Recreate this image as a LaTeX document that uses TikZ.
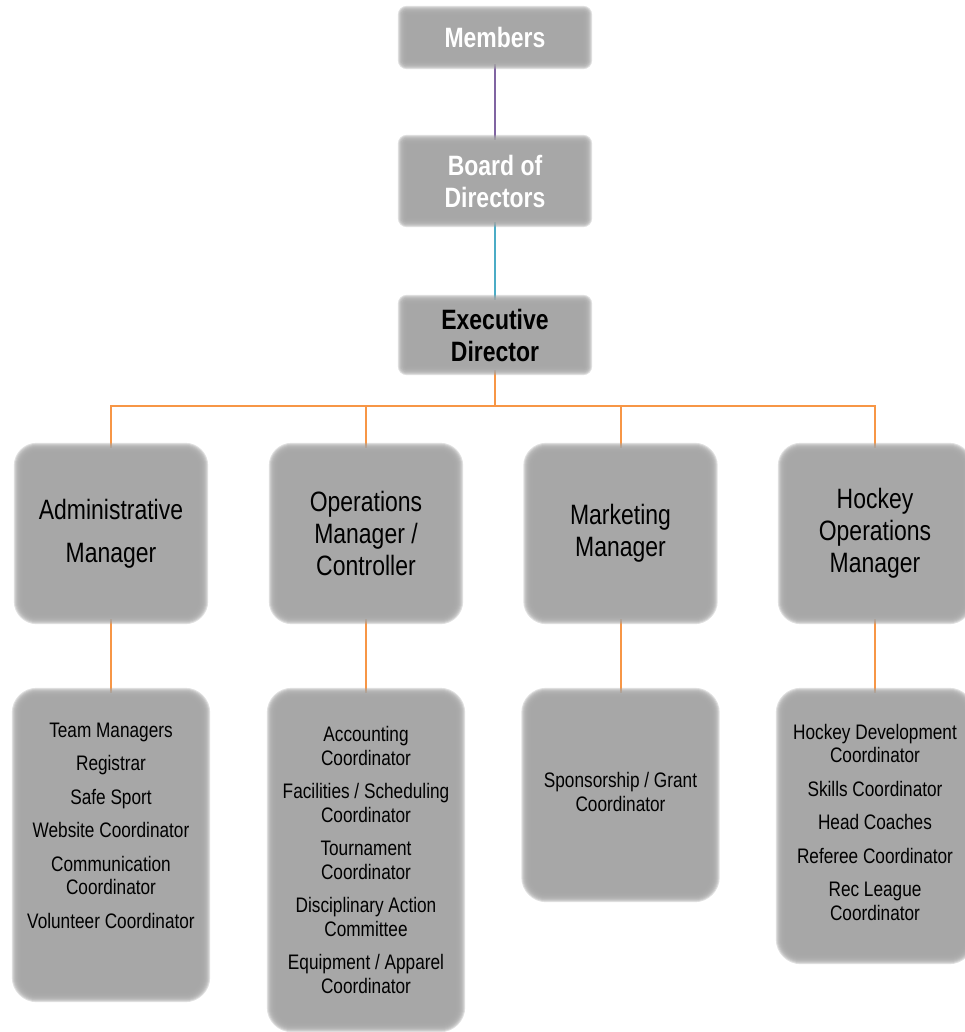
\documentclass[tikz,border=0pt]{standalone}
\usepackage{fontspec}
\newfontfamily\narrow{Liberation Sans}[FakeStretch=0.82]
\definecolor{boxgray}{HTML}{A6A6A6}
\definecolor{lnpurple}{HTML}{8064A2}
\definecolor{lncyan}{HTML}{4BACC6}
\definecolor{lnorange}{HTML}{F79646}
\pgfdeclarelayer{edgelayer}
\pgfdeclarelayer{halolayer}
\pgfsetlayers{edgelayer,halolayer,main}
% soft-edged grey fill of a node, built from stacked translucent layers
\newcommand\halo[2]{%
  \begin{pgfonlayer}{halolayer}
  \foreach \d in {-5,...,5}{%
    \fill[boxgray, opacity=0.35, rounded corners={max(#2+\d pt,1pt)}]
      ([xshift=-\d pt, yshift=-\d pt]#1.south west) rectangle
      ([xshift=\d pt, yshift=\d pt]#1.north east);}
  \end{pgfonlayer}}
\begin{document}
\begin{tikzpicture}[x=1pt,y=-1pt,
  topbox/.style={rounded corners=4pt, minimum width=184pt,
    inner sep=0pt, align=center,
    font=\narrow\bfseries\fontsize{28}{32}\selectfont},
  mgrbox/.style={rounded corners=18pt, minimum width=184pt,
    minimum height=171pt, inner sep=0pt, align=center,
    font=\narrow\fontsize{28}{32}\selectfont},
  subbox/.style={rounded corners=20pt, minimum width=188pt,
    inner sep=0pt},
  subtext/.style={anchor=base, inner sep=0pt, align=center,
    font=\narrow\fontsize{21}{23.5}\selectfont},
  purpleline/.style={draw=lnpurple, line width=1.5pt},
  cyanline/.style={draw=lncyan, line width=1.5pt},
  orangeline/.style={draw=lnorange, line width=2pt}
]
\useasboundingbox (0,0) rectangle (965,1032);
\clip (0,0) rectangle (965,1032);

% top chain
\node[topbox, minimum height=53pt, text=white] (members) at (495,37.5) {Members};
\node[topbox, minimum height=82pt, text=white] (board) at (495,181) {Board of\\Directors};
\node[topbox, minimum height=70pt, text=black] (exec) at (495,335) {Executive\\Director};
\halo{members}{4pt}
\halo{board}{4pt}
\halo{exec}{4pt}

% managers
\node[mgrbox] (admin) at (111,533.5) {Administrative\\[11pt]Manager};
\node[mgrbox] (ops) at (366,533.5) {Operations\\Manager /\\Controller};
\node[mgrbox] (mkt) at (620.5,533.5) {Marketing\\Manager};
\node[mgrbox] (hockey) at (875,533.5) {Hockey\\Operations\\Manager};
\halo{admin}{18pt}
\halo{ops}{18pt}
\halo{mkt}{18pt}
\halo{hockey}{18pt}

% sub boxes
\node[subbox, minimum height=304pt] (adminsub) at (111,845) {};
\node[subbox, minimum height=334pt] (opssub) at (366,860) {};
\node[subbox, minimum height=204pt] (mktsub) at (620.5,795) {};
\node[subbox, minimum height=266pt] (hockeysub) at (875,826) {};
\halo{adminsub}{20pt}
\halo{opssub}{20pt}
\halo{mktsub}{20pt}
\halo{hockeysub}{20pt}

% texts (base anchor = baseline of the last line)
\node[subtext] (admintxt) at (111,928) {Team Managers\\[10pt]Registrar\\[10pt]Safe Sport\\[10pt]Website Coordinator\\[10pt]Communication\\Coordinator\\[10pt]Volunteer Coordinator};
\node[subtext] (opstxt) at (366,993) {Accounting\\Coordinator\\[10pt]Facilities / Scheduling\\Coordinator\\[10pt]Tournament\\Coordinator\\[10pt]Disciplinary Action\\Committee\\[10pt]Equipment / Apparel\\Coordinator};
\node[subtext] (mkttxt) at (620.5,811) {Sponsorship / Grant\\Coordinator};
\node[subtext] (hockeytxt) at (875,920) {Hockey Development\\Coordinator\\[10pt]Skills Coordinator\\[10pt]Head Coaches\\[10pt]Referee Coordinator\\[10pt]Rec League\\Coordinator};

% connectors
\coordinate (bus) at (495,406);
\begin{pgfonlayer}{edgelayer}
\draw[purpleline] (members.south) -- (board.north);
\draw[cyanline] (board.south) -- (exec.north);
\draw[orangeline] (exec.south) -- (bus);
\draw[orangeline] (bus) -| (admin.north);
\draw[orangeline] (bus) -| (ops.north);
\draw[orangeline] (bus) -| (mkt.north);
\draw[orangeline] (bus) -| (hockey.north);
\draw[orangeline] (admin.south) -- (adminsub.north);
\draw[orangeline] (ops.south) -- (opssub.north);
\draw[orangeline] (mkt.south) -- (mktsub.north);
\draw[orangeline] (hockey.south) -- (hockeysub.north);
\end{pgfonlayer}
\end{tikzpicture}
\end{document}
